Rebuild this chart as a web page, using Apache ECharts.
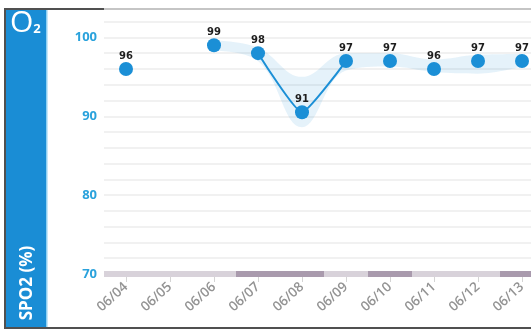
<!DOCTYPE html>
<html>
<head>
<meta charset="utf-8">
<script src="https://cdn.jsdelivr.net/npm/echarts@6/dist/echarts.min.js"></script>
<style>
  html, body { margin: 0; padding: 0; background: #fff; }
  #chart { width: 531px; height: 331px; }
</style>
</head>
<body>
<div id="chart"></div>
<script>
const days = ['06/04', '06/05', '06/06', '06/07', '06/08', '06/09', '06/10', '06/11', '06/12', '06/13']
const spo2 = [96, null, 99, 98, 90.5, 97, 97, 96, 97, 97]
const linked = [null, null, null, 98, 90.5, 97, null, null, null, null]
const bandLow = [null, null, 98.3, 97.0, 88.6, 95.8, 96.3, 95.6, 95.4, 96.3]
const bandHigh = [null, null, 99.6, 98.7, 95.0, 98.0, 98.0, 97.2, 97.8, 97.9]
const flagged = [0, 0, 0, 1, 1, 0, 1, 0, 0, 1]
const yTicks = [70, 80, 90, 100]

const blue = '#1b8fd6'
const chart = echarts.init(document.getElementById('chart'))

chart.setOption({
  animation: false,
  grid: { left: 104, width: 440, top: 9, height: 265, outerBoundsMode: 'none', containLabel: false },
  xAxis: {
    type: 'category',
    data: days,
    boundaryGap: true,
    axisLine: { show: false },
    axisTick: { show: true, alignWithLabel: true, length: 8, lineStyle: { color: '#d4d4d4' } },
    axisLabel: {
      rotate: 42, margin: 11, interval: 0,
      color: '#939393', fontSize: 13.5, fontWeight: 600, fontFamily: 'Open Sans',
    },
    splitLine: { show: false },
  },
  yAxis: {
    type: 'value',
    min: 70,
    max: 103.6,
    interval: 2,
    axisLine: { show: false },
    axisTick: { show: false },
    axisLabel: {
      margin: 7,
      color: '#2aa2dc', fontWeight: 'bold', fontSize: 13, fontFamily: 'Open Sans',
      formatter: (v) => (yTicks.includes(v) ? String(v) : ''),
    },
    splitLine: { lineStyle: { color: '#ececec', width: 1.5 } },
  },
  series: [
    {
      name: 'bandLow',
      type: 'line',
      stack: 'band',
      smooth: 0.4,
      symbol: 'none',
      silent: true,
      lineStyle: { opacity: 0 },
      data: bandLow,
      z: 1,
    },
    {
      name: 'band',
      type: 'line',
      stack: 'band',
      smooth: 0.4,
      symbol: 'none',
      silent: true,
      lineStyle: { opacity: 0 },
      areaStyle: { color: 'rgba(27, 143, 214, 0.16)' },
      data: bandHigh.map((v, i) => (v == null ? null : +(v - bandLow[i]).toFixed(2))),
      z: 1,
    },
    {
      name: 'link',
      type: 'line',
      smooth: 0.15,
      symbol: 'none',
      lineStyle: { color: blue, width: 2 },
      data: linked,
      z: 2,
    },
    {
      name: 'SPO2',
      type: 'scatter',
      symbolSize: 14,
      itemStyle: { color: blue, opacity: 1 },
      label: {
        show: true,
        position: 'top',
        distance: 1,
        color: '#1e1e1e',
        fontSize: 10,
        fontWeight: 'bold',
        fontFamily: 'DejaVu Sans',
        formatter: (p) => String(Math.round(p.value)),
      },
      data: spo2,
      z: 3,
    },
    {
      name: 'days',
      type: 'custom',
      silent: true,
      data: flagged.map((f, i) => [i, 70, f]),
      renderItem: (params, api) => {
        const c = api.coord([api.value(0), api.value(1)])
        const w = api.size([1, 0])[0]
        return {
          type: 'rect',
          shape: { x: c[0] - w / 2, y: c[1] - 3, width: w, height: 6 },
          style: { fill: api.value(2) ? '#a99aad' : '#d8d2da' },
        }
      },
      z: 4,
    },
  ],
  graphic: [
    { type: 'rect', shape: { x: 6, y: 9, width: 40, height: 319 }, style: { fill: '#1a8dd5' } },
    { type: 'rect', shape: { x: 46, y: 9, width: 1.5, height: 319 }, style: { fill: '#8fd0f2' } },
    { type: 'rect', shape: { x: 4, y: 8, width: 540, height: 2 }, style: { fill: '#505050' } },
    { type: 'rect', shape: { x: 4, y: 8, width: 2, height: 321 }, style: { fill: '#505050' } },
    { type: 'rect', shape: { x: 4, y: 327, width: 540, height: 2 }, style: { fill: '#505050' } },
    {
      type: 'text',
      left: 10,
      top: 8,
      style: {
        text: '{o|O}{s|2}',
        rich: {
          o: { fill: '#fff', fontSize: 30, fontFamily: 'Open Sans' },
          s: { fill: '#fff', fontSize: 13, fontWeight: 'bold', fontFamily: 'Open Sans', padding: [12, 0, 0, 0] },
        },
      },
    },
    {
      type: 'text',
      x: 27,
      y: 283,
      rotation: Math.PI / 2,
      style: {
        text: 'SPO2 (%)',
        fill: '#fff',
        fontSize: 17,
        fontWeight: 'bold',
        fontFamily: 'Open Sans',
        align: 'center',
        verticalAlign: 'middle',
      },
    },
  ],
})
</script>
</body>
</html>
